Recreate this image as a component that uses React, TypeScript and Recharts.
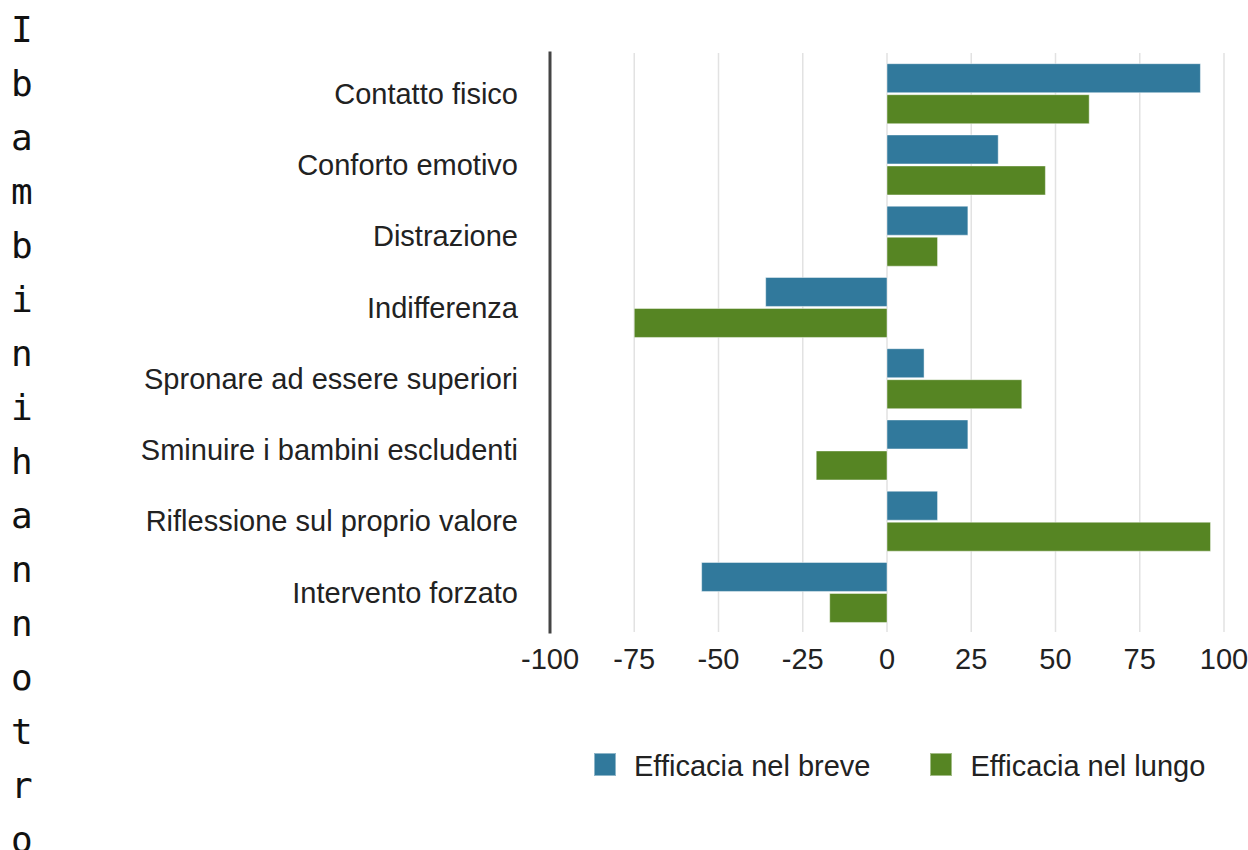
import React from 'react';
import { BarChart, Bar, XAxis, YAxis, CartesianGrid, Legend } from 'recharts';

const TITLE = 'I bambini hanno trovato efficaci queste strategie?';
const categories = [
  'Contatto fisico',
  'Conforto emotivo',
  'Distrazione',
  'Indifferenza',
  'Spronare ad essere superiori',
  'Sminuire i bambini escludenti',
  'Riflessione sul proprio valore',
  'Intervento forzato',
];
const breve = [93, 33, 24, -36, 11, 24, 15, -55];
const lungo = [60, 47, 15, -75, 40, -21, 96, -17];
const xTicks = [-100, -75, -50, -25, 0, 25, 50, 75, 100];
const seriesNames = ['Efficacia nel breve', 'Efficacia nel lungo'];
const BLUE = '#31799c';
const GREEN = '#568523';

const data = categories.map((name, i) => ({ name, breve: breve[i], lungo: lungo[i] }));

const FONT = '"Liberation Sans", Arial, Helvetica, sans-serif';

const renderLegend = (props: any) => {
  const { payload } = props;
  return (
    <div style={{ display: 'flex', alignItems: 'flex-start', fontFamily: FONT }}>
      {(payload || []).map((entry: any, i: number) => (
        <div key={i} style={{ display: 'flex', alignItems: 'flex-start', marginRight: i === 0 ? 60 : 0 }}>
          <span
            style={{
              display: 'inline-block',
              width: 22,
              height: 23,
              marginTop: 3,
              background: entry.color,
              boxSizing: 'border-box',
              border: '1px solid rgba(255,255,255,0.45)',
              marginRight: 18,
            }}
          />
          <span style={{ fontSize: 29, color: '#222', lineHeight: 'normal', whiteSpace: 'nowrap' }}>{entry.value}</span>
        </div>
      ))}
    </div>
  );
};

export default function App() {
  return (
    <div style={{ position: 'fixed', left: 0, top: 0, width: 1248, height: 850, overflow: 'hidden', background: '#fff' }}>
      <BarChart
        width={1248}
        height={850}
        data={data}
        layout="vertical"
        margin={{ top: 53, right: 24, bottom: 168, left: 0 }}
        barCategoryGap="8%"
        barGap={2}
      >
        <CartesianGrid horizontal={false} stroke="#e2e2e2" strokeWidth={1.5} />
        <XAxis
          type="number"
          domain={[-100, 100]}
          ticks={xTicks}
          axisLine={false}
          tickLine={false}
          tickSize={0}
          tickMargin={16}
          height={50}
          interval={0}
          tick={{ fontSize: 29, fill: '#222', fontFamily: FONT }}
        />
        <YAxis
          type="category"
          dataKey="name"
          width={550}
          axisLine={{ stroke: '#444', strokeWidth: 3, strokeLinecap: 'square' }}
          tickLine={false}
          tickSize={0}
          tickMargin={32}
          interval={0}
          padding={{ top: 5, bottom: 4 }}
          tick={{ fontSize: 29, fill: '#222', fontFamily: FONT }}
        />
        <Legend
          layout="horizontal"
          verticalAlign="middle"
          align="center"
          content={renderLegend}
          wrapperStyle={{ position: 'absolute', top: 749.5, left: 594, width: 'auto', height: 'auto' }}
        />
        <Bar
          dataKey="breve"
          name={seriesNames[0]}
          fill={BLUE}
          stroke="#ffffff"
          strokeOpacity={0.45}
          strokeWidth={1}
          isAnimationActive={false}
        />
        <Bar
          dataKey="lungo"
          name={seriesNames[1]}
          fill={GREEN}
          stroke="#ffffff"
          strokeOpacity={0.45}
          strokeWidth={1}
          isAnimationActive={false}
        />
      </BarChart>
      <div
        style={{
          position: 'absolute',
          left: 11,
          top: 3,
          width: 22,
          fontFamily: '"DejaVu Sans Mono", monospace',
          fontSize: 36,
          lineHeight: '54px',
          wordBreak: 'break-all',
          color: '#111',
        }}
      >
        {TITLE}
      </div>
    </div>
  );
}
